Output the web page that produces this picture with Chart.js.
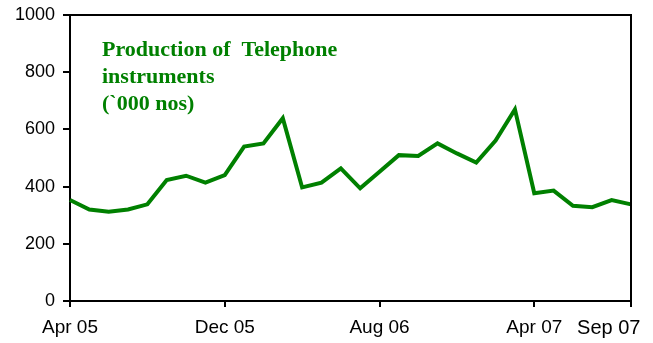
<!DOCTYPE html>
<html><head><meta charset="utf-8">
<script src="https://cdn.jsdelivr.net/npm/chart.js@4"></script>
<style>html,body{margin:0;padding:0;background:#fff}#wrap{width:653px;height:343px;position:relative}</style>
</head><body><div id="wrap"><canvas id="c"></canvas></div>
<script>
const months = ["Apr 05","May 05","Jun 05","Jul 05","Aug 05","Sep 05","Oct 05","Nov 05","Dec 05","Jan 06","Feb 06","Mar 06","Apr 06","May 06","Jun 06","Jul 06","Aug 06","Sep 06","Oct 06","Nov 06","Dec 06","Jan 07","Feb 07","Mar 07","Apr 07","May 07","Jun 07","Jul 07","Aug 07","Sep 07"];
const production = [353,320,312,320,338,423,438,414,440,540,551,639,397,414,464,394,452,510,507,551,516,484,561,670,377,386,333,328,353,338];
const shownTicks = [0,8,16,24,29];
const yTicks = [0,200,400,600,800,1000];
const titleLines = ["Production of  Telephone","instruments","(`000 nos)"];

const boxPlugin = {
  id:'box',
  afterDraw(chart){
    const {ctx, chartArea:a} = chart;
    ctx.save();
    ctx.strokeStyle='#000'; ctx.lineWidth=2;
    ctx.beginPath();
    ctx.moveTo(a.left, a.top); ctx.lineTo(a.right, a.top); ctx.lineTo(a.right, a.bottom);
    ctx.stroke();
    ctx.fillStyle='#008000';
    ctx.font='bold 22px "Liberation Serif", "Times New Roman", serif';
    ctx.textBaseline='alphabetic'; ctx.textAlign='left';
    titleLines.forEach((t,i)=>ctx.fillText(t, 102, 56 + i*27));
    ctx.restore();
  }
};

new Chart(document.getElementById('c'), {
  type:'line',
  data:{labels:months, datasets:[{data:production, borderColor:'#008000', borderWidth:4, pointRadius:0, tension:0, fill:false, borderJoinStyle:'miter'}]},
  options:{
    responsive:true, maintainAspectRatio:false, animation:false,
    layout:{padding:{left:0,right:22,top:15,bottom:0}},
    plugins:{legend:{display:false}, tooltip:{enabled:false}},
    scales:{
      x:{
        grid:{display:true, drawOnChartArea:false, drawTicks:true, tickLength:6, color:'#000', lineWidth:2},
        border:{display:true, color:'#000', width:2},
        ticks:{autoSkip:false, maxRotation:0, padding:9, color:'#000',
          font:(c)=>({family:'"Liberation Sans", Arial, sans-serif', size: c.index===shownTicks.length-1 ? 20 : 19}),
          callback:function(v){ const l=this.getLabelForValue(v); return v===months.length-1 ? l+'\u0020\u0020\u0020\u0020\u0020\u0020\u0020\u0020' : l; }},
        afterBuildTicks:(s)=>{ s.ticks = s.ticks.filter(t=>shownTicks.includes(t.value)); },
        afterFit:(s)=>{ s.height=42; s.paddingRight=0; s.paddingLeft=0; }
      },
      y:{
        min:0, max:1000,
        grid:{display:true, drawOnChartArea:false, drawTicks:true, tickLength:7, color:'#000', lineWidth:2},
        border:{display:true, color:'#000', width:2},
        ticks:{padding:8, color:'#000', font:{family:'"Liberation Sans", Arial, sans-serif', size:18}, callback:(v)=>String(v)},
        afterBuildTicks:(s)=>{ s.ticks = yTicks.map(v=>({value:v})); },
        afterFit:(s)=>{ s.width=70; s.paddingTop=0; s.paddingBottom=0; }
      }
    }
  },
  plugins:[boxPlugin]
});
</script></body></html>
